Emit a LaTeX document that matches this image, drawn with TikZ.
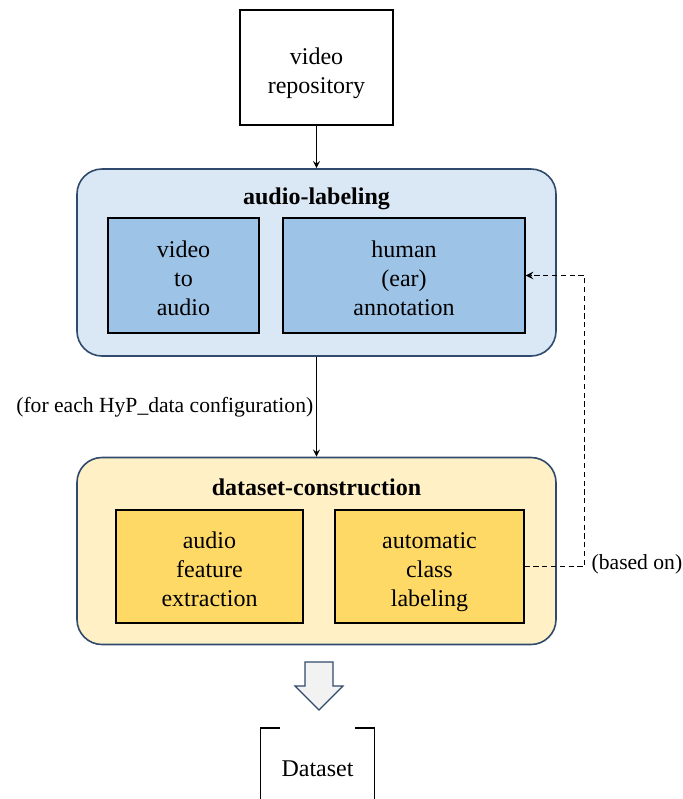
\documentclass[tikz,border=0pt]{standalone}
\usepackage{fontspec}
\setmainfont{Liberation Serif}
\definecolor{outline}{HTML}{2F4A6C}
\definecolor{bluebg}{HTML}{DAE7F5}
\definecolor{bluebox}{HTML}{9DC3E6}
\definecolor{yellowbg}{HTML}{FFF0C6}
\definecolor{yellowbox}{HTML}{FFD966}
\definecolor{grayfill}{HTML}{F2F2F2}
\begin{document}
\begin{tikzpicture}[
    x=0.5pt, y=-0.5pt,
    stage/.style={rectangle, rounded corners=12.5pt, draw=outline, line width=0.8pt, minimum width=239.5pt, minimum height=93.5pt},
    title/.style={font=\fontsize{12}{14.5}\selectfont\bfseries},
    block/.style={rectangle, draw, line width=0.6pt, minimum height=57.5pt},
    boxtext/.style={align=center, font=\fontsize{12}{14.5}\selectfont, text depth=0pt, yshift=-1.5pt},
    note/.style={font=\fontsize{10.8}{13}\selectfont},
    arrow/.style={->,>=stealth, line width=0.6pt}
]
\useasboundingbox (0,0) rectangle (683,799);

% Define nodes
\node (repo) [block, fill=white, minimum width=76.5pt] at (316.5,67.5) {};
\node (repotext) [boxtext] at (repo) {video\\repository};

\node (labeling) [stage, fill=bluebg] at (316.5,262.5) {};
\node (labtitle) [title] at (316.5,199) {audio-labeling};
\node (v2a) [block, fill=bluebox, minimum width=75.5pt] at (183.5,275.5) {};
\node (v2atext) [boxtext] at (v2a) {video\\to\\audio};
\node (human) [block, fill=bluebox, minimum width=121pt] at (404,275.5) {};
\node (humantext) [boxtext] at (human) {human\\(ear)\\annotation};

\node (construction) [stage, fill=yellowbg] at (316.5,551) {};
\node (contitle) [title] at (316.5,487) {dataset-construction};
\node (feature) [block, fill=yellowbox, minimum width=93.5pt, minimum height=56.5pt] at (209.5,566.5) {};
\node (featuretext) [boxtext] at (feature) {audio\\feature\\extraction};
\node (auto) [block, fill=yellowbox, minimum width=94.5pt, minimum height=56.5pt] at (429.5,566.5) {};
\node (autotext) [boxtext] at (auto) {automatic\\class\\labeling};

\node (dataset) [font=\fontsize{12}{14.5}\selectfont, minimum width=56.5pt, minimum height=40pt, anchor=north] at (317.5,728) {Dataset};

% Connect nodes
\draw [arrow] (repo) -- (labeling);
\draw [arrow] (labeling) -- node (foreach) [note, left, xshift=2pt] {(for each HyP\_data configuration)} (construction);
\draw [arrow, line width=0.7pt, dash pattern=on 2.6pt off 1.8pt] (auto.east) -- ++(30pt,0) coordinate (bend) |- (human.east);
\node (basedon) [note, right, yshift=1pt] at (bend) {(based on)};

% Output
\draw [draw=outline, fill=grayfill, line width=0.6pt] (305,662) -- (333,662) -- (333,686) -- (343,686) -- (319,710) -- (295,686) -- (305,686) -- cycle;
\draw [line width=0.7pt] ([xshift=9.5pt]dataset.north west) -- (dataset.north west) -- ++(0,-40pt);
\draw [line width=0.7pt] ([xshift=-9.5pt]dataset.north east) -- (dataset.north east) -- ++(0,-40pt);
\end{tikzpicture}
\end{document}
